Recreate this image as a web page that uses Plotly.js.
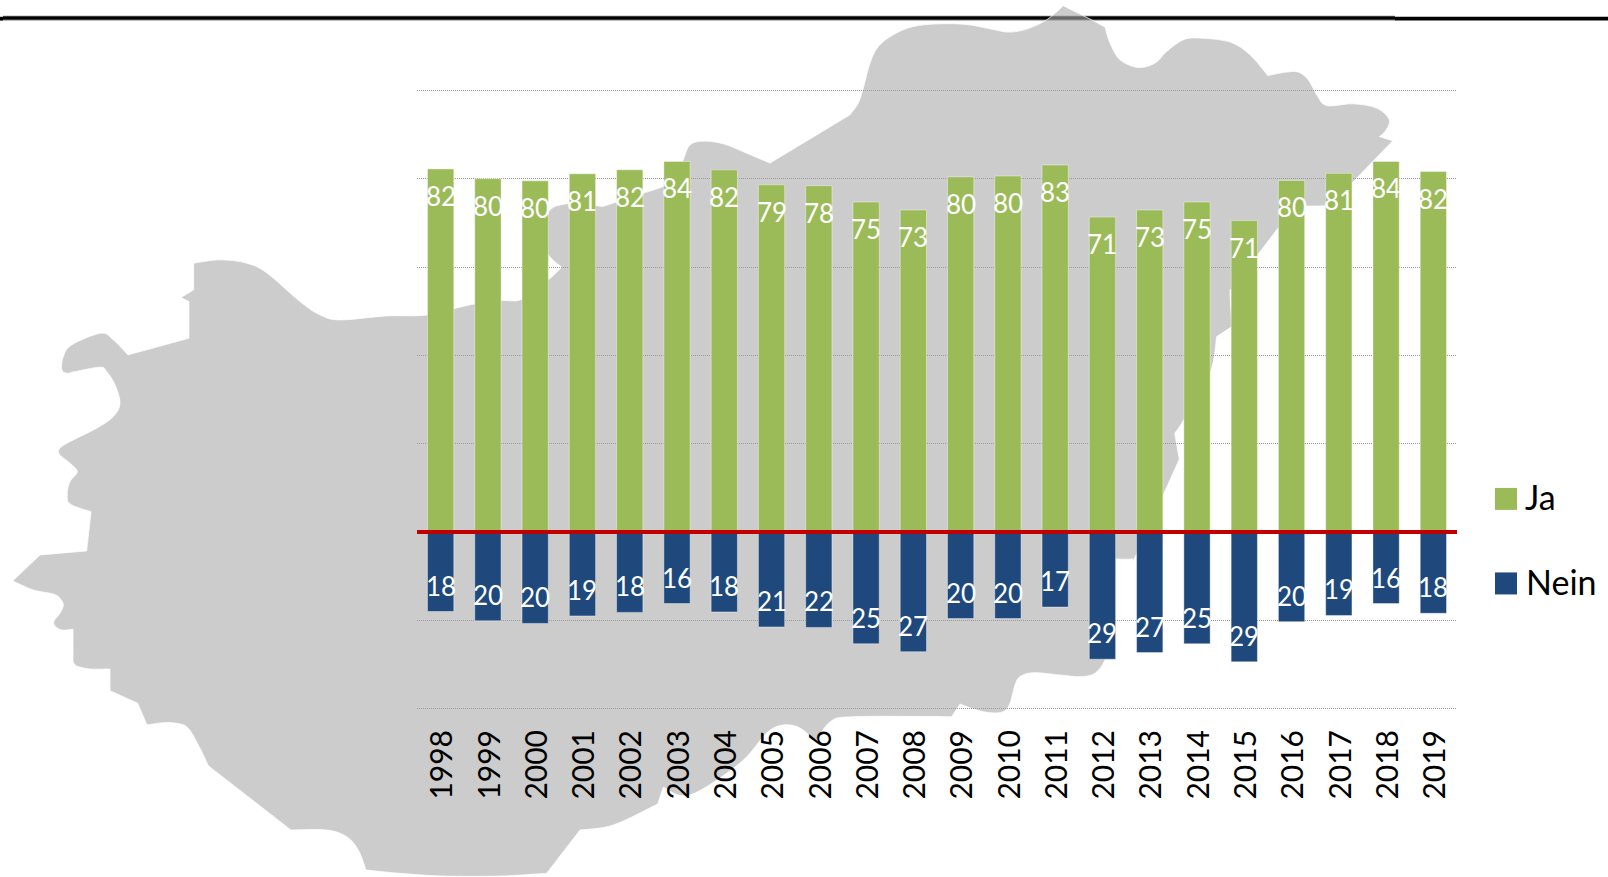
<!DOCTYPE html>
<html><head><meta charset="utf-8">
<script src="https://cdn.plot.ly/plotly-3.0.0.min.js"></script>
<style>html,body{margin:0;padding:0;background:#fff}#c{width:1608px;height:877px}</style>
</head><body><div id="c"></div>
<script>
const years=['1998','1999','2000','2001','2002','2003','2004','2005','2006','2007','2008','2009','2010','2011','2012','2013','2014','2015','2016','2017','2018','2019'];
const jaValues=[82.2,80.0,79.5,81.1,82.0,83.9,82.0,78.6,78.4,74.7,72.9,80.4,80.6,83.1,71.3,72.9,74.7,70.5,79.6,81.2,83.9,81.6];
const neinValues=[-18.0,-20.1,-20.7,-19.0,-18.2,-16.2,-18.1,-21.5,-21.6,-25.3,-27.1,-19.6,-19.6,-17.0,-28.8,-27.3,-25.3,-29.4,-20.3,-18.9,-16.2,-18.4];
const jaLabels=[82,80,80,81,82,84,82,79,78,75,73,80,80,83,71,73,75,71,80,81,84,82];
const neinLabels=[18,20,20,19,18,16,18,21,22,25,27,20,20,17,29,27,25,29,20,19,16,18];
const seriesNames=['Ja','Nein'];
const seriesColors=['#9BBB59','#1F497D'];

// decorative backdrop silhouette (page pixels); each section is smoothed, joins are corners
const outline=[
[[193.7,263.3],[220,260],[246.7,263.3],[266.7,273],[300,301.7],[320,315],[340,320],[386.7,316],[423,315.5],[453,309]],
[[453,309],[474.7,304],[501,300.7],[522,299.3],[548.3,280],[561.7,267.3]],
[[561.7,267.3],[548.3,255],[541,235],[548.3,211.7]],
[[548.3,211.7],[556.7,206],[576.7,203.3],[602.7,206.7]],
[[602.7,206.7],[633,196.7],[663.3,186.7],[676,180]],
[[676,180],[683.3,160],[690,145],[703.3,141.3],[723.3,144],[746.7,153.3],[770,163.3]],
[[770,163.3],[850,115]],
[[850,115],[858.3,103.3],[863.3,88.3],[870,63.3],[878.3,46.7],[893.3,35],[913.3,26.7],[940,24],[966.7,24.7],[990,29],[1008.3,32.3],[1026.7,29.3],[1046.7,20],[1063.3,6]],
[[1063.3,6],[1090,19.3],[1105,27.3]],
[[1105,27.3],[1110,43.3],[1120,60],[1138.3,67.7],[1155,63.3],[1166.7,51.7],[1183.3,40],[1200,38.3],[1230,42.3],[1250,55],[1267.7,75.7]],
[[1267.7,75.7],[1286.7,72.3],[1298.3,72.3],[1308.3,80],[1316.7,95],[1326.7,105.7],[1353.3,104],[1376.7,108.3],[1389.3,120],[1385,131.7],[1379.3,136.7]],
[[1379.3,136.7],[1392.7,141]],
[[1392.7,141],[1330,206]],
[[1330,206],[1295,206.5]],
[[1295,206.5],[1257.7,255],[1232,292]],
[[1232,292],[1230,292],[1232,326.7]],
[[1232,326.7],[1216.7,336.7]],
[[1216.7,336.7],[1210,373],[1183.7,420],[1174.7,433.3]],
[[1174.7,433.3],[1179.3,459.3]],
[[1179.3,459.3],[1136,555],[1132,559],[1115.7,559]],
[[1115.7,559],[1110,640],[1105,660],[1095,673.3],[1080,676.7],[1060,675],[1033.3,672.7],[1020,676.7],[1015,685],[1010,703.3],[1003.3,711.7],[990,712.7],[976.7,710],[960,704]],
[[960,704],[951.7,716.7]],
[[951.7,716.7],[853.3,716.7],[830,722],[816,742]],
[[816,742],[800,728],[783.3,725],[766.7,733],[740,763],[690,795],[663.3,787.3]],
[[663.3,787.3],[657.7,804]],
[[657.7,804],[613.3,825],[580,830]],
[[580,830],[546.7,873.3]],
[[546.7,873.3],[500,876],[443,876],[400,873.3],[366,870]],
[[366,870],[358.3,850],[346.7,836.7],[326.7,830],[291,830]],
[[291,830],[208.3,765.7]],
[[208.3,765.7],[200,748.3],[188.3,728.3],[176.7,723.3],[163.3,722.7],[147,725]],
[[147,725],[137.7,703.3]],
[[137.7,703.3],[110,690.7]],
[[110,690.7],[110,669]],
[[110,669],[90,669],[76.7,666],[73,661.7]],
[[73,661.7],[73,629.3]],
[[73,629.3],[61.7,630],[55,626],[54,621],[60,613.3],[63.3,605],[60,598.3],[53.3,594],[33.3,590],[12.7,581]],
[[12.7,581],[40,555]],
[[40,555],[86.7,551]],
[[86.7,551],[91,511.7]],
[[91,511.7],[70,504],[67.3,493.3],[70,481.7],[77.3,471.7],[70,463.3],[60,455],[59.3,449],[70,441.7],[96.7,428.3],[113.3,416.7],[120,403.3],[115,385],[106.7,371.7],[100,367.3],[75,371.7],[66.7,373.3],[61.7,369.3],[63.3,356.7],[71.7,345],[100.7,333.3],[113.3,340],[128,355]],
[[128,355],[189,338.3]],
[[189,338.3],[189,301.7]],
[[189,301.7],[181,297.7]],
[[181,297.7],[193.7,290]],
[[193.7,290],[193.7,263.3]]
];

const W=1608,H=877,L=417,R=1457,T=89.18,B=710.02;
const px=x=>(x-L)/(R-L), py=y=>(B-y)/(B-T);
function outlinePath(){
  let d='M'+px(outline[0][0][0])+','+py(outline[0][0][1]);
  for(const s of outline){
    for(let i=0;i<s.length-1;i++){
      const p0=s[Math.max(i-1,0)],p1=s[i],p2=s[i+1],p3=s[Math.min(i+2,s.length-1)];
      const c1=[p1[0]+(p2[0]-p0[0])/6,p1[1]+(p2[1]-p0[1])/6];
      const c2=[p2[0]-(p3[0]-p1[0])/6,p2[1]-(p3[1]-p1[1])/6];
      d+='C'+px(c1[0])+','+py(c1[1])+' '+px(c2[0])+','+py(c2[1])+' '+px(p2[0])+','+py(p2[1]);
    }
  }
  return d+'Z';
}
function hline(x0,x1,y,color,w){return {type:'line',xref:'paper',yref:'paper',x0:px(x0),x1:px(x1),y0:py(y),y1:py(y),layer:'below',line:{color:color,width:w}};}

const shapes=[
  hline(3,1395,18.3,'#777',4.8),
  hline(3,1395,18.3,'#000',3),
  hline(1395,1608,18.9,'#000',3.8),
  hline(0,3,18.9,'#000',3.8),
  {type:'path',xref:'paper',yref:'paper',layer:'below',path:outlinePath(),fillcolor:'rgba(170,170,170,0.6)',line:{color:'rgba(255,255,255,0.75)',width:1}},
  {type:'line',xref:'paper',x0:0,x1:1,yref:'y',y0:0,y1:0,layer:'above',line:{color:'#C00000',width:4}},
];
const labelFont={family:'Lato, sans-serif',size:26,color:'#fff'};
const annotations=[];
years.forEach((y,i)=>{
  annotations.push({x:i,y:jaValues[i],xref:'x',yref:'y',text:String(jaLabels[i]),showarrow:false,yshift:-27,font:labelFont,xanchor:'center',yanchor:'middle'});
  annotations.push({x:i,y:neinValues[i],xref:'x',yref:'y',text:String(neinLabels[i]),showarrow:false,yshift:26,font:labelFont,xanchor:'center',yanchor:'middle'});
});
// legend
[[499,1527],[583.5,1528]].forEach((p,i)=>{
  shapes.push({type:'rect',xref:'paper',yref:'paper',x0:px(1495),x1:px(1517),y0:py(p[0]-11),y1:py(p[0]+11),fillcolor:seriesColors[i],line:{width:0},layer:'above'});
  annotations.push({xref:'paper',yref:'paper',x:px(p[1]),y:py(p[0]),text:seriesNames[i],showarrow:false,xanchor:'left',yanchor:'middle',xshift:-4,yshift:2,font:{family:'Lato, sans-serif',size:34,color:'#000'}});
});
const barLine={color:'rgba(255,255,255,0.4)',width:1};
const traces=[
 {type:'bar',name:seriesNames[0],x:years,y:jaValues,marker:{color:seriesColors[0],line:barLine},hoverinfo:'x+y'},
 {type:'bar',name:seriesNames[1],x:years,y:neinValues,marker:{color:seriesColors[1],line:barLine},hoverinfo:'x+y'}
];
const layout={
 width:W,height:H,paper_bgcolor:'rgba(0,0,0,0)',plot_bgcolor:'rgba(0,0,0,0)',
 margin:{l:L,r:W-R,t:T,b:H-B,pad:0},
 barmode:'relative',bargap:0.444,showlegend:false,
 xaxis:{type:'category',categoryorder:'array',categoryarray:years,range:[-0.5,21.5],tickangle:-90,showgrid:false,zeroline:false,showline:false,ticks:'',ticklabelstandoff:13,ticklabelshift:2,automargin:false,tickfont:{family:'Lato, sans-serif',size:30,color:'#000'}},
 yaxis:{range:[-40.3,100.3],dtick:20,tick0:0,showgrid:true,griddash:'1px,1px',gridcolor:'#9a9a9a',gridwidth:1,zeroline:false,showline:false,showticklabels:false,ticks:'',automargin:false},
 shapes:shapes,annotations:annotations
};
Plotly.newPlot('c',traces,layout,{displayModeBar:false,responsive:false});
</script></body></html>
